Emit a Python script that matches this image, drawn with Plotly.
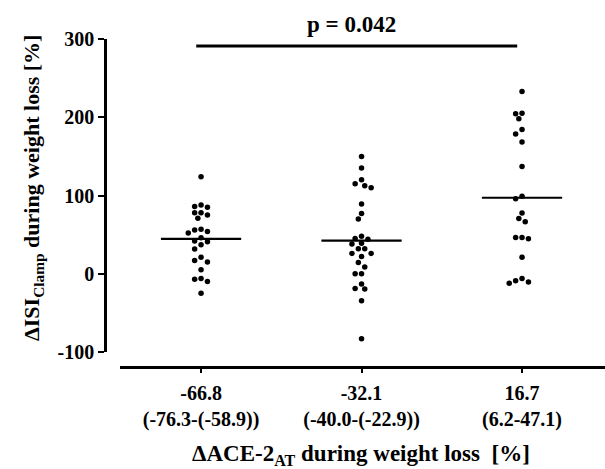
import numpy as np
import plotly.graph_objects as go

# ---- data ----
cat_main = ["-66.8", "-32.1", "16.7"]
cat_range = ["(-76.3-(-58.9))", "(-40.0-(-22.9))", "(6.2-47.1)"]
group1 = [124, 88, 85, 86, 78, 75, 78, 71, 56, 52, 54, 57, 46, 42, 41, 37, 31.5,
          17, 15, 21, 5, -7, -10, -6, -25]
group2 = [150, 135, 120, 115, 110, 112.5, 89, 77, 70, 45, 44, 48, 38, 39, 32, 32,
          26, 22, 26, 14.5, 8.5, 0, 0, -13, -19.5, -19, -34.5, -83]
group3 = [233, 204.6, 205, 198, 184.5, 178.6, 168.4, 137, 99, 96, 77.6, 70.7, 66.5,
          46.4, 44.8, 46.4, 21, -9, -12, -10.6, -6]
groups = [group1, group2, group3]
p_text = "p = 0.042"
y_ticks = [-100, 0, 100, 200, 300]

FONT = "Liberation Serif"

# pixel scales used only for laying out the swarm
PX_PER_X = 160.5
PX_PER_Y = 0.7825


def beeswarm(vals, step_px=3.2, diam_px=6.0):
    order = np.argsort(-np.asarray(vals))
    placed = []
    offs = np.zeros(len(vals))
    for i in order:
        yp = vals[i] * PX_PER_Y
        k_seq = [0]
        for k in range(1, 20):
            k_seq += [-k, k]
        for k in k_seq:
            xp = k * step_px
            ok = all((xp - px) ** 2 + (yp - py) ** 2 >= diam_px ** 2 for px, py in placed)
            if ok:
                placed.append((xp, yp))
                offs[i] = xp / PX_PER_X
                break
    return offs


fig = go.Figure()
for gi, vals in enumerate(groups):
    offs = beeswarm(vals)
    fig.add_trace(go.Scatter(
        x=gi + offs, y=vals, mode="markers",
        marker=dict(size=5.5, color="black"),
        showlegend=False, hoverinfo="y"))
    m = float(np.mean(vals))
    fig.add_trace(go.Scatter(
        x=[gi - 0.25, gi + 0.25], y=[m, m], mode="lines",
        line=dict(color="black", width=2.2), showlegend=False, hoverinfo="skip"))

# significance bar
fig.add_shape(type="line", xref="x", yref="y", x0=-0.03, x1=1.97, y0=291, y1=291,
              line=dict(color="black", width=3))
fig.add_annotation(xref="paper", yref="paper", x=(351 - 105) / 500, y=1 + (39 - 25) / 328,
                   text="<b>%s</b>" % p_text, showarrow=False,
                   font=dict(family=FONT, size=23, color="black"),
                   xanchor="center", yanchor="middle")

# axis titles
fig.add_annotation(xref="paper", yref="paper", x=(33 - 105) / 500, y=(367 - 188) / 328,
                   text="<b>ΔISI<sub>Clamp</sub> during weight loss [%]</b>",
                   textangle=-90, showarrow=False,
                   font=dict(family=FONT, size=22, color="black"),
                   xanchor="center", yanchor="middle")
fig.add_annotation(xref="paper", yref="paper", x=(361 - 105) / 500, y=(367 - 455) / 328,
                   text="<b>ΔACE-2<sub>AT</sub> during weight loss  [%]</b>",
                   showarrow=False,
                   font=dict(family=FONT, size=23, color="black"),
                   xanchor="center", yanchor="middle")

fig.update_layout(
    width=605, height=469,
    margin=dict(l=105, r=0, t=39, b=102),
    paper_bgcolor="white", plot_bgcolor="white",
    font=dict(family=FONT, color="black"),
    xaxis=dict(
        domain=[15 / 500, 1], range=[-0.505, 2.517],
        tickvals=[0, 1, 2],
        ticktext=["<b>%s<br>%s</b>" % (a, b) for a, b in zip(cat_main, cat_range)],
        ticks="outside", ticklen=4, tickwidth=2, tickcolor="black",
        ticklabelstandoff=3,
        showline=True, linecolor="black", linewidth=2.5,
        showgrid=False, zeroline=False,
        tickfont=dict(family=FONT, size=20, color="black"),
        anchor="free", position=0,
    ),
    yaxis=dict(
        domain=[15 / 328, 1], range=[-100, 300],
        tickvals=y_ticks, ticktext=["<b>%d</b>" % v for v in y_ticks],
        ticks="outside", ticklen=6, tickwidth=2, tickcolor="black",
        showline=True, linecolor="black", linewidth=2.5,
        showgrid=False, zeroline=False,
        tickfont=dict(family=FONT, size=20, color="black"),
        anchor="free", position=0,
    ),
)

fig.write_html("out.html", config={"displayModeBar": False},
               post_script="document.body.style.margin='0';")
